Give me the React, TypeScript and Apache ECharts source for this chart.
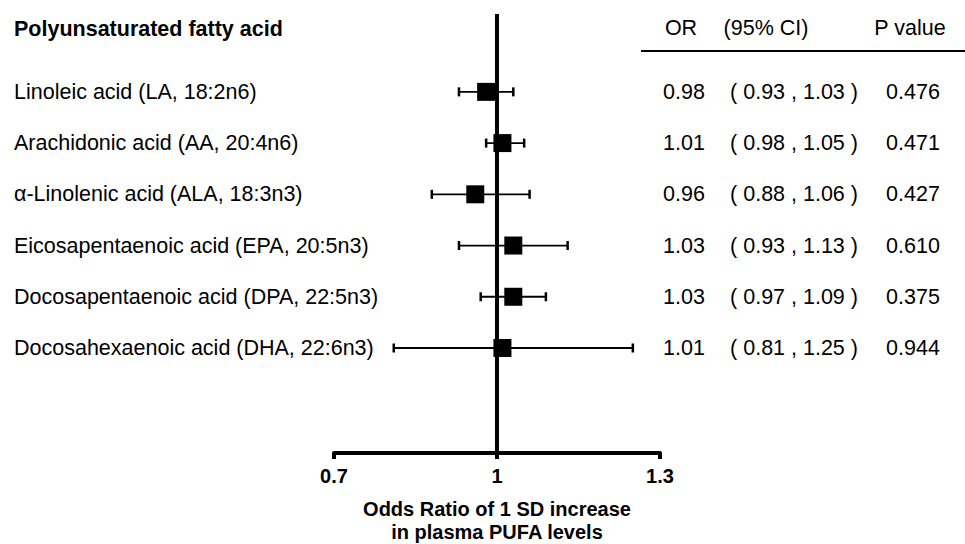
import React, { useEffect, useRef } from "react";
import * as echarts from "echarts";

const acidNames = [
  "Linoleic acid (LA, 18:2n6)",
  "Arachidonic acid (AA, 20:4n6)",
  "α-Linolenic acid (ALA, 18:3n3)",
  "Eicosapentaenoic acid (EPA, 20:5n3)",
  "Docosapentaenoic acid (DPA, 22:5n3)",
  "Docosahexaenoic acid (DHA, 22:6n3)",
];
const orValues = [0.98, 1.01, 0.96, 1.03, 1.03, 1.01];
const ciLow = [0.93, 0.98, 0.88, 0.93, 0.97, 0.81];
const ciHigh = [1.03, 1.05, 1.06, 1.13, 1.09, 1.25];
const pValues = ["0.476", "0.471", "0.427", "0.610", "0.375", "0.944"];
const xTickValues = [0.7, 1, 1.3];
const xTickLabels = ["0.7", "1", "1.3"];
const headerTitle = "Polyunsaturated fatty acid";
const headerOR = "OR";
const headerCI = "(95% CI)";
const headerP = "P value";
const axisTitle = "Odds Ratio of 1 SD increase\nin plasma PUFA levels";

const FONT = "'Liberation Sans', Arial, Helvetica, sans-serif";
const FS = 21.5;

export default function App() {
  const ref = useRef<HTMLDivElement>(null);
  useEffect(() => {
    if (!ref.current) return;
    const chart = echarts.init(ref.current, null, { renderer: "svg" });
    const rows = orValues.map((v, i) => i);
    const option: any = {
      animation: false,
      backgroundColor: "#fff",
      textStyle: { fontFamily: FONT },
      grid: { left: 334, right: 305, top: 14, bottom: 91, outerBoundsMode: "none" },
      xAxis: {
        type: "value",
        min: 0.7,
        max: 1.3,
        interval: 0.3,
        splitLine: { show: false },
        axisLine: { show: true, onZero: false, lineStyle: { color: "#000", width: 4 } },
        axisTick: { show: true, length: 6, lineStyle: { color: "#000", width: 4 } },
        axisLabel: {
          margin: 13,
          color: "#000",
          fontSize: 20,
          fontWeight: "bold",
          fontFamily: FONT,
          formatter: (v: number) => {
            const k = xTickValues.findIndex((t) => Math.abs(t - v) < 1e-6);
            return k >= 0 ? xTickLabels[k] : "";
          },
        },
        name: axisTitle,
        nameLocation: "middle",
        nameGap: 44,
        nameTextStyle: {
          color: "#000",
          fontSize: 20,
          fontWeight: "bold",
          lineHeight: 23,
          fontFamily: FONT,
        },
      },
      yAxis: {
        type: "value",
        inverse: true,
        min: -1.52,
        max: 7.05,
        show: false,
      },
      graphic: [
        {
          type: "text",
          left: 14,
          top: 18,
          style: { text: headerTitle, fontSize: FS, fontWeight: "bold", fontFamily: FONT, fill: "#000" },
        },
        {
          type: "text",
          x: 681,
          y: 28,
          style: { text: headerOR, fontSize: FS, fontFamily: FONT, fill: "#000", align: "center", verticalAlign: "middle" },
        },
        {
          type: "text",
          x: 766,
          y: 28,
          style: { text: headerCI, fontSize: FS, fontFamily: FONT, fill: "#000", align: "center", verticalAlign: "middle" },
        },
        {
          type: "text",
          x: 910,
          y: 28,
          style: { text: headerP, fontSize: FS, fontFamily: FONT, fill: "#000", align: "center", verticalAlign: "middle" },
        },
        {
          type: "line",
          shape: { x1: 641, y1: 51, x2: 965, y2: 51 },
          style: { stroke: "#000", lineWidth: 2 },
        },
      ],
      series: [
        {
          type: "custom",
          name: "ci",
          data: rows.map((i) => [ciLow[i], ciHigh[i], i]),
          encode: { x: [0, 1], y: 2 },
          z: 2,
          renderItem: (params: any, api: any) => {
            const y = api.value(2);
            const p1 = api.coord([api.value(0), y]);
            const p2 = api.coord([api.value(1), y]);
            const cap = 4.5;
            return {
              type: "group",
              children: [
                { type: "line", shape: { x1: p1[0], y1: p1[1], x2: p2[0], y2: p2[1] }, style: { stroke: "#000", lineWidth: 1.8 } },
                { type: "line", shape: { x1: p1[0], y1: p1[1] - cap, x2: p1[0], y2: p1[1] + cap }, style: { stroke: "#000", lineWidth: 2.5 } },
                { type: "line", shape: { x1: p2[0], y1: p2[1] - cap, x2: p2[0], y2: p2[1] + cap }, style: { stroke: "#000", lineWidth: 2.5 } },
              ],
            };
          },
        },
        {
          type: "scatter",
          name: "or",
          data: rows.map((i) => [orValues[i], i]),
          symbol: "rect",
          symbolSize: 18,
          z: 4,
          itemStyle: { color: "#000", opacity: 1 },
          markLine: {
            silent: true,
            symbol: "none",
            label: { show: false },
            z: 3,
            lineStyle: { color: "#000", width: 4, type: "solid" },
            data: [{ xAxis: 1 }],
          },
        },
        {
          type: "custom",
          name: "table",
          data: rows.map((i) => [orValues[i], i]),
          encode: { x: 0, y: 1 },
          renderItem: (params: any, api: any) => {
            const i = params.dataIndex;
            const y = api.coord([1, api.value(1)])[1];
            const base = { fontSize: FS, fontFamily: FONT, fill: "#000", verticalAlign: "middle" };
            return {
              type: "group",
              children: [
                { type: "text", x: 14, y, style: { ...base, text: acidNames[i], align: "left" } },
                { type: "text", x: 684, y, style: { ...base, text: orValues[i].toFixed(2), align: "center" } },
                {
                  type: "text",
                  x: 794,
                  y,
                  style: { ...base, text: `( ${ciLow[i].toFixed(2)} , ${ciHigh[i].toFixed(2)} )`, align: "center" },
                },
                { type: "text", x: 913, y, style: { ...base, text: pValues[i], align: "center" } },
              ],
            };
          },
        },
      ],
    };
    chart.setOption(option);
    return () => chart.dispose();
  }, []);
  return <div ref={ref} style={{ position: "fixed", left: 0, top: 0, width: 965, height: 544 }} />;
}
